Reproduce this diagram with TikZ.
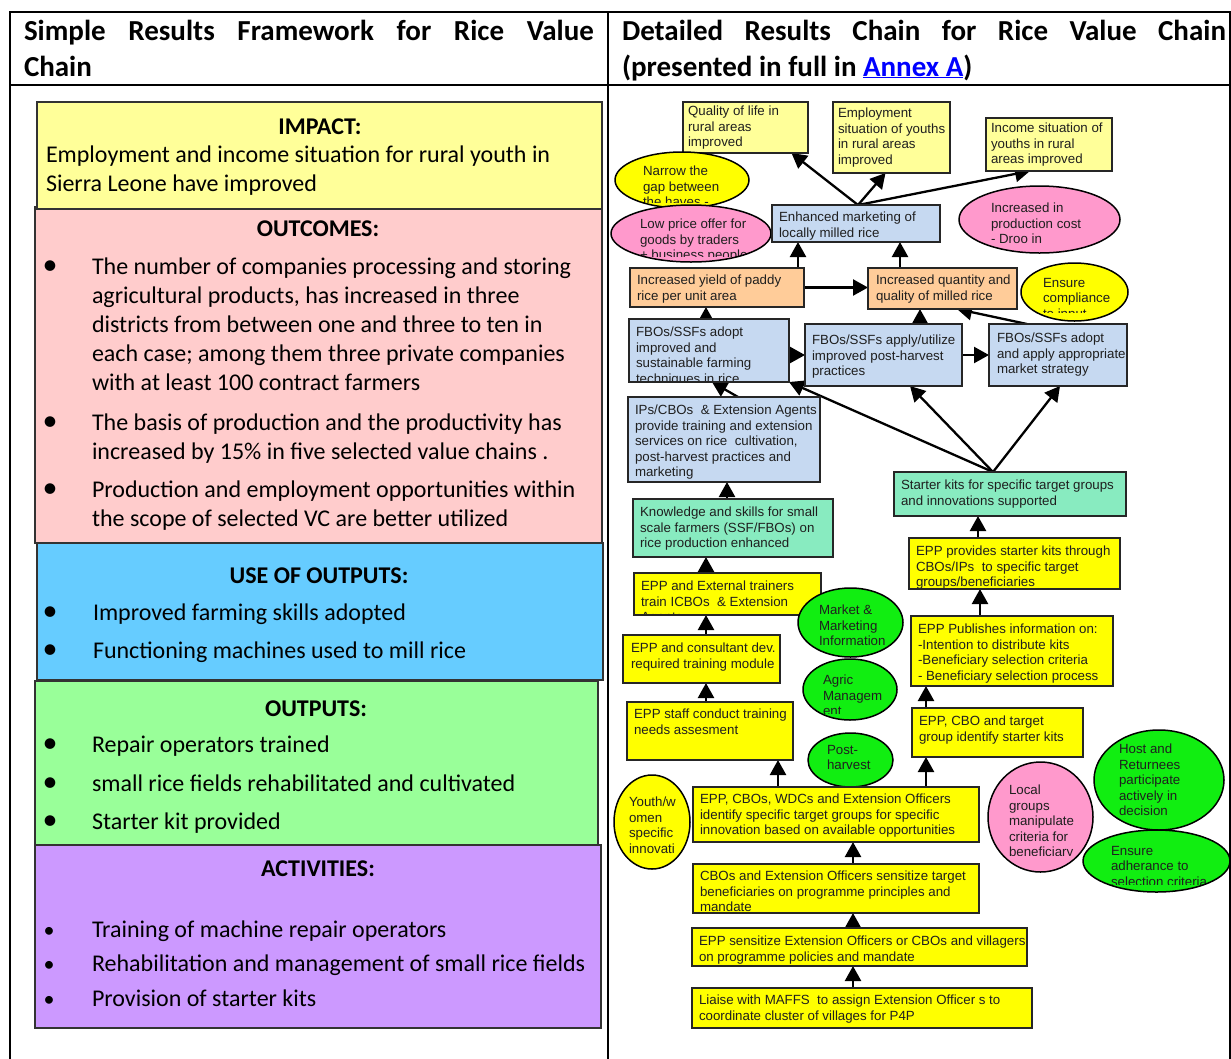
\documentclass[tikz,border=0pt]{standalone}
\usepackage{fontspec}
\setmainfont{Carlito}
\newfontfamily\arialf{Liberation Sans}
\usetikzlibrary{shapes.geometric,arrows.meta,backgrounds,calc}

\newcommand\rf{\arialf\fontsize{13.3pt}{15.5pt}\selectfont}
\newcommand\bodyf{\fontsize{24pt}{29pt}\selectfont}
\newcommand\headf{\bfseries\fontsize{29pt}{36pt}\selectfont}

\definecolor{clyel}{HTML}{FFFF99}
\definecolor{cyel}{HTML}{FFFF00}
\definecolor{cblu}{HTML}{C6D9F1}
\definecolor{corg}{HTML}{FFCC99}
\definecolor{ctl}{HTML}{88EBC0}
\definecolor{cgrn}{HTML}{11EE11}
\definecolor{cpnk}{HTML}{FF99CC}
\definecolor{cimp}{HTML}{FFFF99}
\definecolor{cout}{HTML}{FFCCCC}
\definecolor{cuse}{HTML}{66CCFF}
\definecolor{coutp}{HTML}{99FF99}
\definecolor{cact}{HTML}{CC99FF}

\def\cliph{1000}
% name, style, x1, y1, x2, y2, dx, dy, text
\newcommand\rbx[9]{%
  \node[#2, minimum width={(#5-#3)*1pt}, minimum height={(#6-#4)*1pt},
    path picture={\clip (path picture bounding box.north west) rectangle ([yshift=-\cliph pt]path picture bounding box.north east);
      \node[intxt] at ([xshift=#7pt,yshift=-#8pt]path picture bounding box.north west) {#9};}]
    (#1) at ({(#3+#5)/2},{(#4+#6)/2}) {};}
% name, x, baseline, text
\newcommand\lline[4]{\node[ltxt] (#1) at (#2,#3) {#4};}
\newcommand\lbul[3]{\node[bul] (#1) at (#2,#3) {•};}
\newcommand\sbul[3]{\node[sbul] (#1) at (#2,#3) {•};}

\begin{document}
\begin{tikzpicture}[x=1pt,y=-1pt,
  tbl/.style={draw=black,line width=1.3pt},
  lbx/.style={draw=black!80,line width=1.2pt,inner sep=0pt,outer sep=0pt,rectangle,anchor=north west},
  ltxt/.style={anchor=base west,inner sep=0pt,outer sep=0pt,font=\bodyf},
  ttl/.style={anchor=base,inner sep=0pt,outer sep=0pt,font=\bodyf\bfseries},
  bul/.style={anchor=base,inner sep=0pt,outer sep=0pt,font=\fontsize{30pt}{30pt}\selectfont},
  sbul/.style={anchor=base,inner sep=0pt,outer sep=0pt,font=\fontsize{22pt}{22pt}\selectfont},
  hdr/.style={anchor=base west,inner sep=0pt,outer sep=0pt,font=\headf},
  intxt/.style={anchor=north west,inner sep=0pt,outer sep=0pt,align=left,font=\rf,
    draw=none,fill=none,shape=rectangle,minimum width=0pt,minimum height=0pt,text=black!88},
  rb/.style={draw=black!85,line width=1.5pt,inner sep=0pt,outer sep=0pt,rectangle},
  re/.style={draw=black,line width=1.5pt,inner sep=0pt,outer sep=0pt,ellipse},
  lyb/.style={rb,fill=clyel},
  yb/.style={rb,fill=cyel},
  bb/.style={rb,fill=cblu},
  ob/.style={rb,fill=corg},
  tb/.style={rb,fill=ctl},
  ye/.style={re,fill=cyel},
  pe/.style={re,fill=cpnk},
  ge/.style={re,fill=cgrn},
  arr/.style={draw=black,line width=2.3pt,-{Triangle[length=15pt,width=16pt]}}
]
\useasboundingbox (0,0) rectangle (1231,1058);

% table grid
\draw[tbl] (10,1070) -- (10,12) -- (1230,12) -- (1230,1070);
\draw[tbl] (10,85) -- (1230,85);
\draw[tbl] (608,12) -- (608,1070);

% headers
\node[hdr] (h1) at (24,40) {\makebox[570pt][s]{Simple Results Framework for Rice Value}};
\node[hdr] (h2) at (24,76) {Chain};
\node[hdr] (h3) at (622,40) {\makebox[604pt][s]{Detailed Results Chain for Rice Value Chain}};
\node[hdr] (h4) at (622,76) {(presented in full in \textcolor{blue}{\underline{Annex A}})};

% left panel boxes
\node[lbx,fill=cout,minimum width=567pt,minimum height=336pt] (outc) at (35,207) {};
\node[lbx,fill=cimp,minimum width=565pt,minimum height=107pt] (impc) at (37,102) {};
\node[lbx,fill=cuse,minimum width=566pt,minimum height=137pt] (usec) at (37,543) {};
\node[lbx,fill=coutp,minimum width=563pt,minimum height=165pt] (outpc) at (35,681) {};
\node[lbx,fill=cact,minimum width=566pt,minimum height=183pt] (actc) at (35,845) {};

% IMPACT
\node[ttl] (t1) at (320,134) {IMPACT:};
\lline{i1}{46}{162}{Employment and income situation for rural youth in}
\lline{i2}{46}{191}{Sierra Leone have improved}
% OUTCOMES
\node[ttl] (t2) at (318,236) {OUTCOMES:};
\lbul{ob1}{50}{274}
\lline{o1}{92}{274}{The number of companies processing and storing}
\lline{o2}{92}{303}{agricultural products, has increased in three}
\lline{o3}{92}{332}{districts from between one and three to ten in}
\lline{o4}{92}{361}{each case; among them three private companies}
\lline{o5}{92}{390}{with at least 100 contract farmers}
\lbul{ob2}{50}{430}
\lline{o6}{92}{430}{The basis of production and the productivity has}
\lline{o7}{92}{459}{increased by 15\% in five selected value chains .}
\lbul{ob3}{50}{497}
\lline{o8}{92}{497}{Production and employment opportunities within}
\lline{o9}{92}{526}{the scope of selected VC are better utilized}
% USE OF OUTPUTS
\node[ttl] (t3) at (319,583) {USE OF OUTPUTS:};
\lbul{ub1}{50}{620}
\lline{u1}{93}{620}{Improved farming skills adopted}
\lbul{ub2}{50}{658}
\lline{u2}{93}{658}{Functioning machines used to mill rice}
% OUTPUTS
\node[ttl] (t4) at (316,716) {OUTPUTS:};
\lbul{pb1}{50}{752}
\lline{p1}{92}{752}{Repair operators trained}
\lbul{pb2}{50}{791}
\lline{p2}{92}{791}{small rice fields rehabilitated and cultivated}
\lbul{pb3}{50}{829}
\lline{p3}{92}{829}{Starter kit provided}
% ACTIVITIES
\node[ttl] (t5) at (318,876) {ACTIVITIES:};
\sbul{ab1}{49}{937}
\lline{a1}{92}{937}{Training of machine repair operators}
\sbul{ab2}{49}{971}
\lline{a2}{92}{971}{Rehabilitation and management of small rice fields}
\sbul{ab3}{49}{1006}
\lline{a3}{92}{1006}{Provision of starter kits}

% right panel nodes
\rbx{q}{lyb}{683}{102}{808}{153}{5}{4}{Quality of life in\\rural areas\\improved}
\rbx{e}{lyb}{833}{102}{950}{173}{5}{6}{Employment\\situation of youths\\in rural areas\\improved}
\rbx{inc}{lyb}{986}{118}{1112}{171}{5}{5}{Income situation of\\youths in rural\\areas improved}
\def\cliph{50}
\rbx{nar}{ye}{615}{152}{749}{208}{28}{14}{Narrow the\\gap between\\the haves -}
\def\cliph{51}
\rbx{low}{pe}{611}{205}{771}{262}{29}{14}{Low price offer for\\goods by traders\\+ business people}
\def\cliph{1000}
\rbx{enh}{bb}{772}{205}{940}{242}{7}{7}{Enhanced marketing of\\locally milled rice}
\def\cliph{58}
\rbx{cost}{pe}{959}{186}{1120}{253}{32}{17}{Increased in\\production cost\\- Droo in}
\def\cliph{1000}
\rbx{yld}{ob}{630}{268}{804}{307}{7}{7}{Increased yield of paddy\\rice per unit area}
\rbx{qty}{ob}{868}{268}{1017}{309}{8}{7}{Increased quantity and\\quality of milled rice}
\def\cliph{49}
\rbx{comp}{ye}{1021}{263}{1128}{321}{22}{15}{Ensure\\compliance\\to input}
\def\cliph{1000}
\rbx{fa}{bb}{629}{319}{789}{382}{7}{8}{FBOs/SSFs adopt\\improved and\\sustainable farming\\techniques in rice}
\rbx{fp}{bb}{805}{324}{962}{386}{7}{11}{FBOs/SSFs apply/utilize\\improved post-harvest\\practices}
\rbx{fm}{bb}{989}{324}{1127}{386}{8}{9}{FBOs/SSFs adopt\\and apply appropriate\\market strategy}
\rbx{ips}{bb}{628}{397}{820}{482}{7}{8}{IPs/CBOs~ \& Extension Agents\\provide training and extension\\services on rice~ cultivation,\\post-harvest practices and\\marketing}
\rbx{know}{tb}{633}{499}{833}{557}{7}{8}{Knowledge and skills for small\\scale farmers (SSF/FBOs) on\\rice production enhanced}
\rbx{kit}{tb}{894}{472}{1126}{516}{7}{8}{Starter kits for specific target groups\\and innovations supported}
\rbx{prov}{yb}{909}{538}{1120}{589}{7}{8}{EPP provides starter kits through\\CBOs/IPs~ to specific target\\groups/beneficiaries}
\rbx{ext}{yb}{634}{573}{821}{615}{7}{8}{EPP and External trainers\\train ICBOs~ \& Extension\\Agents}
\rbx{mkt}{ge}{798}{588}{903}{657}{21}{17}{Market \&\\Marketing\\Information}
\rbx{cons}{yb}{623}{635}{780}{683}{8}{8}{EPP and consultant dev.\\required training module}
\rbx{pub}{yb}{911}{616}{1113}{686}{7}{8}{EPP Publishes information on:\\-Intention to distribute kits\\-Beneficiary selection criteria\\- Beneficiary selection process}
\def\cliph{54}
\rbx{agr}{ge}{803}{659}{897}{720}{20}{16}{Agric\\Managem\\ent}
\def\cliph{1000}
\rbx{staff}{yb}{627}{702}{793}{760}{7}{7}{EPP staff conduct training\\needs assesment}
\rbx{ident}{yb}{912}{708}{1083}{757}{7}{8}{EPP, CBO and target\\group identify starter kits}
\rbx{post}{ge}{808}{733}{893}{787}{19}{12}{Post-\\harvest}
\rbx{youth}{ye}{614}{775}{690}{869}{15}{22}{Youth/w\\omen\\specific\\innovati}
\rbx{wdc}{yb}{693}{787}{979}{842}{7}{7}{EPP, CBOs, WDCs and Extension Officers\\identify specific target groups for specific\\innovation based on available opportunities}
\def\cliph{93}
\rbx{local}{pe}{988}{762}{1093}{872}{21}{23}{Local\\groups\\manipulate\\criteria for\\beneficiary}
\def\cliph{1000}
\rbx{host}{ge}{1094}{730}{1224}{830}{25}{14}{Host and\\Returnees\\participate\\actively in\\decision}
\def\cliph{54}
\rbx{adh}{ge}{1083}{830}{1230}{892}{28}{16}{Ensure\\adherance to\\selection criteria}
\def\cliph{1000}
\rbx{sens}{yb}{693}{864}{979}{913}{7}{7}{CBOs and Extension Officers sensitize target\\beneficiaries on programme principles and\\mandate}
\rbx{epps}{yb}{692}{928}{1027}{966}{7}{8}{EPP sensitize Extension Officers or CBOs and villagers\\on programme policies and mandate}
\rbx{liaise}{yb}{692}{988}{1032}{1028}{7}{7}{Liaise with MAFFS~ to assign Extension Officer s to\\coordinate cluster of villages for P4P}

% connectors
\begin{pgfonlayer}{background}
\draw[arr] ([xshift=2pt]enh.north) -- ([xshift=46pt]q.south);
\draw[arr] ([xshift=2pt]enh.north) -- ([xshift=-6pt]e.south);
\draw[arr] ([xshift=2pt]enh.north) -- ([xshift=-19pt]inc.south);
\draw[arr] ([xshift=81pt]yld.north) -- ([xshift=81pt]yld.north |- enh.south);
\draw[arr] ([xshift=-42.5pt]qty.north) -- ([xshift=-42.5pt]qty.north |- enh.south);
\draw[arr] (yld.east) -- (yld.east -| qty.west);
\draw[arr] ([xshift=-3pt]fa.north) -- ([xshift=-3pt]fa.north |- yld.south);
\draw[arr] ([xshift=36.5pt]fp.north) -- ([xshift=36.5pt]fp.north |- qty.south);
\draw[arr] ([yshift=-4.5pt]fa.east) -- ([yshift=-4.5pt]fa.east -| fp.west);
\draw[arr] (fp.east) -- (fp.east -| fm.west);
\draw[arr] ([xshift=38pt]fm.north west) -- ([xshift=-60pt]qty.south east);
\draw[arr] ([xshift=14pt]ips.north) -- ([xshift=3pt]fa.south);
\draw[arr] ([xshift=-17pt]kit.north) -- (fa.south east);
\draw[arr] ([xshift=-17pt]kit.north) -- ([xshift=26.5pt]fp.south);
\draw[arr] ([xshift=-17pt]kit.north) -- ([xshift=2pt]fm.south);
\draw[arr] ([xshift=-6pt]know.north) -- ([xshift=-6pt]know.north |- ips.south);
\draw[arr] ([xshift=-21.5pt]ext.north) -- ([xshift=-21.5pt]ext.north |- know.south);
\draw[arr] ([xshift=4.5pt]cons.north) -- ([xshift=4.5pt]cons.north |- ext.south);
\draw[arr] ([xshift=-4pt]staff.north) -- ([xshift=-4pt]staff.north |- cons.south);
\draw[arr] ([xshift=-58pt]wdc.north) -- ([xshift=-58pt]wdc.north |- staff.south);
\draw[arr] ([xshift=90pt]wdc.north) -- ([xshift=90pt]wdc.north |- ident.south);
\draw[arr] ([xshift=17pt]sens.north) -- ([xshift=17pt]sens.north |- wdc.south);
\draw[arr] ([xshift=-6.5pt]epps.north) -- ([xshift=-6.5pt]epps.north |- sens.south);
\draw[arr] ([xshift=-9pt]liaise.north) -- ([xshift=-9pt]liaise.north |- epps.south);
\draw[arr] ([xshift=-71.5pt]ident.north) -- ([xshift=-71.5pt]ident.north |- pub.south);
\draw[arr] ([xshift=-32pt]pub.north) -- ([xshift=-32pt]pub.north |- prov.south);
\draw[arr] ([xshift=-36.5pt]prov.north) -- ([xshift=-36.5pt]prov.north |- kit.south);
\end{pgfonlayer}
\end{tikzpicture}
\end{document}
